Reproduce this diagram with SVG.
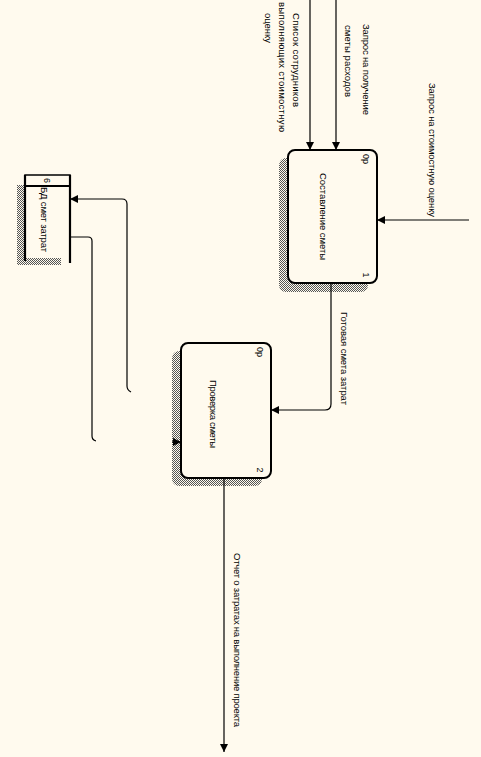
<svg xmlns="http://www.w3.org/2000/svg" width="481" height="757" viewBox="0 0 481 757">
<style>
.t{font-family:"Liberation Sans","DejaVu Sans",sans-serif;font-size:9.5px;fill:#000;dominant-baseline:central}
.n{font-family:"Liberation Sans","DejaVu Sans",sans-serif;font-size:9px;fill:#000;dominant-baseline:central;text-anchor:middle}
.box{fill:#FFFAEE;stroke:#000;stroke-width:2}
.sh{fill:url(#hatch)}
.ln{fill:none;stroke:#000;stroke-width:1.2}
.ds{stroke:#000;stroke-width:2.2;fill:none}
</style>
<defs>
<pattern id="hatch" width="2" height="2" patternUnits="userSpaceOnUse">
<rect x="0" y="0" width="1" height="1" fill="#555"/>
<rect x="1" y="1" width="1" height="1" fill="#555"/>
</pattern>
<marker id="ah" viewBox="0 0 10 10" refX="10" refY="5" markerWidth="9" markerHeight="8" markerUnits="userSpaceOnUse" orient="auto">
<path d="M0,0 L10,5 L0,10 z" fill="#000"/>
</marker>
</defs>
<rect width="481" height="757" fill="#FFFAEE"/>

<g id="box1">
<rect class="sh" x="279" y="158" width="89" height="134" rx="7"/>
<rect class="box" x="288" y="150" width="89" height="133" rx="7"/>
<text class="t" transform="translate(323,173) rotate(90)" textLength="87">Составление сметы</text>
<text class="n" transform="translate(366,159) rotate(90)">0р</text>
<text class="n" transform="translate(366,275) rotate(90)">1</text>
</g>

<g id="box2">
<rect class="sh" x="172" y="351" width="90" height="135" rx="7"/>
<rect class="box" x="181" y="343" width="90" height="135" rx="7"/>
<text class="t" transform="translate(213,380) rotate(90)" textLength="68">Проверка сметы</text>
<text class="n" transform="translate(260,352) rotate(90)">0р</text>
<text class="n" transform="translate(260,470) rotate(90)">2</text>
</g>

<g id="store">
<rect class="sh" x="17" y="185" width="8" height="80"/>
<rect class="sh" x="17" y="258" width="44" height="7"/>
<rect x="25" y="175" width="45" height="11" fill="#FFFAEE" stroke="#000" stroke-width="1.5"/>
<line class="ds" x1="25" y1="175" x2="25" y2="261"/>
<line class="ds" x1="70" y1="175" x2="70" y2="263"/>
<line class="ds" x1="25" y1="186" x2="70" y2="186"/>
<text class="n" transform="translate(47,180.5) rotate(90)">6</text>
<text class="t" transform="translate(44,187) rotate(90)" textLength="65">БД смет затрат</text>
</g>

<g id="connectors">
<line class="ln" x1="310" y1="0" x2="310" y2="150" marker-end="url(#ah)"/>
<line class="ln" x1="336" y1="0" x2="336" y2="150" marker-end="url(#ah)"/>
<line class="ln" x1="469" y1="220" x2="377" y2="220" marker-end="url(#ah)"/>
<path class="ln" d="M331,283 V404 Q331,410 325,410 H271" marker-end="url(#ah)"/>
<line class="ln" x1="224" y1="478" x2="224" y2="752" marker-end="url(#ah)"/>
<path class="ln" d="M131,392 Q127,390 127,386 V204 Q127,199 122,199 H70" marker-end="url(#ah)"/>
<path class="ln" d="M70,237 H88 Q92,237 92,241 V436 Q92,440 96,441"/>
<line class="ln" x1="172" y1="442" x2="181" y2="442" marker-end="url(#ah)"/>

<text class="t" transform="translate(296,13) rotate(90)" textLength="94">Список сотрудников</text>
<text class="t" transform="translate(282,2) rotate(90)" textLength="130">выполняющих стоимостную</text>
<text class="t" transform="translate(268,13) rotate(90)" textLength="30">оценку</text>
<text class="t" transform="translate(366,24) rotate(90)" textLength="91">Запрос на получение</text>
<text class="t" transform="translate(348,25) rotate(90)" textLength="72">сметы расходов</text>
<text class="t" transform="translate(432,83) rotate(90)" textLength="134">Запрос на стоимостную оценку</text>
<text class="t" transform="translate(344,312) rotate(90)" textLength="93">Готовая смета затрат</text>
<text class="t" transform="translate(237,553) rotate(90)" textLength="174">Отчет о затратах на выполнение проекта</text>
</g>
</svg>
